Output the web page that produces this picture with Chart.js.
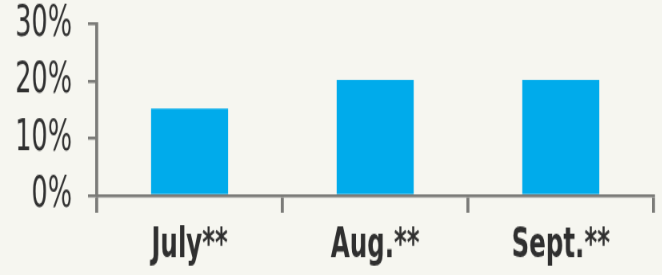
<!DOCTYPE html>
<html>
<head>
<meta charset="utf-8">
<script src="https://cdn.jsdelivr.net/npm/chart.js@4"></script>
<style>
  html, body { margin: 0; padding: 0; height: 275px; background: #f6f6f0; overflow: hidden; }
  /* the source picture uses a tall narrow face; draw wider and shorter, then squash/stretch */
  #chart { display: block; transform: scale(0.8, 1.23); transform-origin: 0 0; }
</style>
</head>
<body>
<canvas id="chart" width="828" height="224"></canvas>
<script>
// ── Data ──
const months = ['July**', 'Aug.**', 'Sept.**'];
const shares = [15.2, 20.2, 20.2];
const yTicks = [0, 10, 20, 30];

const FONT = "'DejaVu Sans Condensed', 'DejaVu Sans', sans-serif";
const AXIS = '#7b7b78';

new Chart(document.getElementById('chart'), {
  type: 'bar',
  data: {
    labels: months,
    datasets: [{
      data: shares,
      backgroundColor: '#00abeb',
      borderWidth: 0,
      categoryPercentage: 1,
      barPercentage: 0.415,
    }],
  },
  options: {
    responsive: false,
    animation: false,
    layout: { padding: { top: 0, right: 11, left: 0, bottom: 0 } },
    plugins: { legend: { display: false }, tooltip: { enabled: false } },
    scales: {
      x: {
        offset: true,
        grid: { offset: true, drawOnChartArea: false, color: AXIS, lineWidth: 3.75, tickLength: 14 },
        border: { color: AXIS, width: 2.5 },
        ticks: {
          color: '#2f2f2f',
          padding: 10,
          maxRotation: 0,
          minRotation: 0,
          autoSkip: false,
          font: { family: FONT, size: 34, weight: 'bold', lineHeight: 1 },
        },
        afterFit: (s) => { s.height = 65; },
      },
      y: {
        min: 0,
        max: 30,
        afterBuildTicks: (s) => { s.ticks = yTicks.map(v => ({ value: v })); },
        grid: { drawOnChartArea: false, color: AXIS, lineWidth: 2.5, tickLength: 11 },
        border: { color: AXIS, width: 3.75 },
        ticks: {
          color: '#303030',
          padding: 20,
          font: { family: FONT, size: 35.5, lineHeight: 1 },
          callback: (v) => v + '%',
        },
        afterFit: (s) => { s.width = 121; s.paddingTop = 19.5; s.paddingBottom = 0; },
      },
    },
  },
});
</script>
</body>
</html>
